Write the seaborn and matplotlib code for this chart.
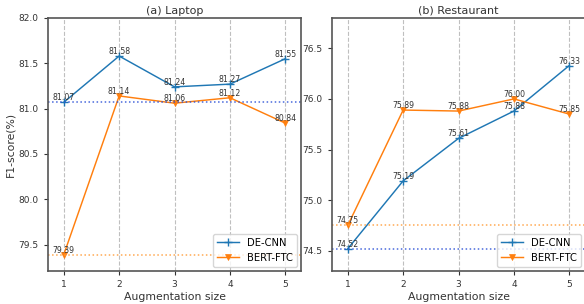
import pandas as pd
import numpy as np
import matplotlib
matplotlib.use('Agg')
import matplotlib.pyplot as plt
import seaborn as sns

# augmentation sizes and F1 scores
aug_size = [1, 2, 3, 4, 5]
laptop_decnn = [81.07, 81.58, 81.24, 81.27, 81.55]
laptop_bert = [79.39, 81.14, 81.06, 81.12, 80.84]
rest_decnn = [74.52, 75.19, 75.61, 75.88, 76.33]
rest_bert = [74.75, 75.89, 75.88, 76.00, 75.85]

models = ['DE-CNN', 'BERT-FTC']
colors = ['#1f77b4', '#ff7f0e']
laptop_yticks = [79.5, 80.0, 80.5, 81.0, 81.5, 82.0]
rest_yticks = [74.5, 75.0, 75.5, 76.0, 76.5]


def to_long(decnn, bert):
    return pd.DataFrame({
        'size': aug_size * 2,
        'f1': decnn + bert,
        'model': [models[0]] * len(aug_size) + [models[1]] * len(aug_size),
    })


def fix_markers(line, color, plus):
    line.set_markeredgecolor(color)
    if plus:
        line.set_marker('+')
        line.set_markeredgewidth(1.0)
        line.set_markersize(5.5)
    else:
        line.set_markerfacecolor(color)
        line.set_markeredgewidth(0.5)
        line.set_markersize(5)


def draw_panel(ax, decnn, bert, title, ylim, yticks, ylabel=None):
    df = to_long(decnn, bert)
    ax.grid(axis='x', color='#b0b0b0', linestyle='--', linewidth=0.8, alpha=0.8)
    ax.set_axisbelow(True)
    sns.lineplot(
        df, x='size', y='f1', hue='model', style='model',
        hue_order=models, style_order=models,
        palette=colors,
        markers={'DE-CNN': 'P', 'BERT-FTC': 'v'},
        dashes=False, linewidth=1.05, markersize=5, ax=ax,
    )
    fix_markers(ax.lines[0], colors[0], True)
    fix_markers(ax.lines[1], colors[1], False)

    # baselines at augmentation size 1
    ax.axhline(decnn[0], color='#2a4fd6', linestyle=':', linewidth=1.1, alpha=0.85)
    ax.axhline(bert[0], color='#ffa040', linestyle=':', linewidth=1.1, alpha=0.9)

    for ys in [decnn, bert]:
        for x, y in zip(aug_size, ys):
            ax.text(x, y, f'{y:.2f}', ha='center', va='bottom', fontsize=5.6,
                    color='#333333')

    ax.set_xlim(0.71, 5.29)
    ax.set_ylim(*ylim)
    ax.set_xticks(aug_size)
    ax.set_yticks(yticks)
    ax.set_yticklabels([f'{t:.1f}' for t in yticks])
    ax.set_title(title, fontsize=8, color='#333333', pad=3)
    ax.set_xlabel('Augmentation size', fontsize=7.8, color='#333333', labelpad=2)
    ax.set_ylabel(ylabel if ylabel else '', fontsize=7.8, color='#333333',
                  labelpad=2)
    ax.tick_params(labelsize=6.5, colors='#333333', length=3, width=0.8)
    for s in ax.spines.values():
        s.set_color('#555555')
        s.set_linewidth(1.2)

    handles, labels = ax.get_legend_handles_labels()
    fix_markers(handles[0], colors[0], True)
    fix_markers(handles[1], colors[1], False)
    ax.legend(handles, labels, loc='lower right', fontsize=7.2,
              frameon=True, edgecolor='#cccccc', handlelength=2.2,
              borderaxespad=0.4)


fig = plt.figure(figsize=(5.84, 3.04), dpi=100)
ax1 = fig.add_axes([0.0817, 0.1086, 0.4343, 0.8324])
ax2 = fig.add_axes([0.568, 0.1086, 0.4343, 0.8324])

draw_panel(ax1, laptop_decnn, laptop_bert, '(a) Laptop', (79.21, 82.0),
           laptop_yticks, ylabel='F1-score(%)')
draw_panel(ax2, rest_decnn, rest_bert, '(b) Restaurant', (74.30, 76.80),
           rest_yticks)

fig.savefig('out.png', dpi=100)
